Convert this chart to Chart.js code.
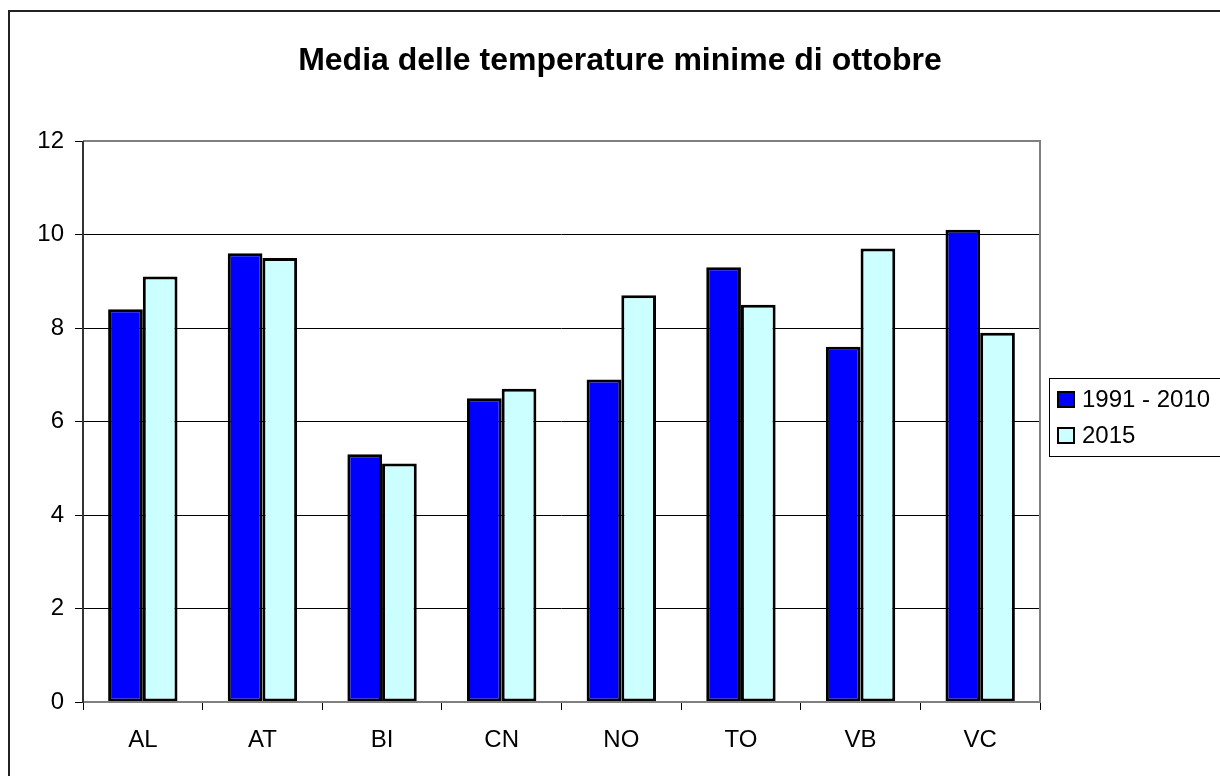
<!DOCTYPE html>
<html>
<head>
<meta charset="utf-8">
<script src="https://cdn.jsdelivr.net/npm/chart.js@4/dist/chart.umd.min.js"></script>
<style>
  html, body { margin: 0; padding: 0; background: #fff; }
  #wrap { width: 1220px; height: 776px; position: relative; }
</style>
</head>
<body>
<div id="wrap"><canvas id="c" width="1220" height="776"></canvas></div>
<script>
const chartTitle = "Media delle temperature minime di ottobre";
const categories = ["AL", "AT", "BI", "CN", "NO", "TO", "VB", "VC"];
const seriesNames = ["1991 - 2010", "2015"];
const values1991_2010 = [8.4, 9.6, 5.3, 6.5, 6.9, 9.3, 7.6, 10.1];
const values2015 = [9.1, 9.5, 5.1, 6.7, 8.7, 8.5, 9.7, 7.9];
const yTicks = [0, 2, 4, 6, 8, 10, 12];

const FONT = "'Liberation Sans', Arial, sans-serif";

const decor = {
  id: 'decor',
  afterDraw(chart) {
    const ctx = chart.ctx;
    const a = chart.chartArea;
    ctx.save();
    // outer border (top + left)
    ctx.strokeStyle = '#222';
    ctx.lineWidth = 2;
    ctx.beginPath();
    ctx.moveTo(9, 780); ctx.lineTo(9, 11); ctx.lineTo(1225, 11);
    ctx.stroke();
    // plot border
    ctx.strokeStyle = '#808080';
    ctx.lineWidth = 2;
    ctx.beginPath();
    ctx.moveTo(a.left, a.top); ctx.lineTo(a.right, a.top); ctx.lineTo(a.right, a.bottom); ctx.lineTo(a.left, a.bottom);
    ctx.stroke();
    ctx.strokeStyle = '#333';
    ctx.beginPath();
    ctx.moveTo(a.left, a.top); ctx.lineTo(a.left, a.bottom + 1);
    ctx.stroke();
    // title
    ctx.fillStyle = '#000';
    ctx.font = 'bold 32px ' + FONT;
    ctx.textAlign = 'center';
    ctx.textBaseline = 'middle';
    ctx.fillText(chartTitle, 620, 61);
    // legend
    ctx.strokeStyle = '#000';
    ctx.lineWidth = 1;
    ctx.strokeRect(1049.5, 378.5, 200, 78);
    chart.data.datasets.forEach((ds, i) => {
      const y = 392 + i * 36;
      ctx.fillStyle = ds.backgroundColor;
      ctx.fillRect(1058, y, 16, 15);
      ctx.lineWidth = 2;
      ctx.strokeStyle = '#000';
      ctx.strokeRect(1058, y, 16, 15);
      ctx.fillStyle = '#000';
      ctx.font = '24px ' + FONT;
      ctx.textAlign = 'left';
      ctx.textBaseline = 'middle';
      ctx.fillText(ds.label, 1082, y + 8);
    });
    ctx.restore();
  }
};

new Chart(document.getElementById('c'), {
  type: 'bar',
  data: {
    labels: categories,
    datasets: [
      { label: seriesNames[0], data: values1991_2010, backgroundColor: '#0000FF', borderColor: '#000', borderWidth: 3, borderSkipped: false },
      { label: seriesNames[1], data: values2015, backgroundColor: '#CCFFFF', borderColor: '#000', borderWidth: 3, borderSkipped: false }
    ]
  },
  options: {
    responsive: false,
    animation: false,
    devicePixelRatio: 1,
    layout: { padding: { top: 141, right: 180, bottom: 0, left: 0 } },
    plugins: { legend: { display: false }, title: { display: false }, tooltip: { enabled: false } },
    datasets: { bar: { categoryPercentage: 0.58, barPercentage: 1.0 } },
    scales: {
      x: {
        offset: true,
        grid: { display: true, drawOnChartArea: false, drawTicks: true, tickLength: 8, tickColor: '#000', offset: true },
        border: { display: false },
        ticks: { color: '#000', font: { family: FONT, size: 24 }, padding: 16, maxRotation: 0 },
        afterFit(scale) { scale.height = 74; }
      },
      y: {
        min: 0, max: 12,
        afterBuildTicks(scale) { scale.ticks = yTicks.map(v => ({ value: v })); },
        grid: {
          color: (c) => (c.tick && (c.tick.value === 0 || c.tick.value === 12)) ? 'rgba(0,0,0,0)' : '#000',
          lineWidth: 1, tickLength: 8, tickColor: '#000'
        },
        border: { display: false },
        ticks: { color: '#000', font: { family: FONT, size: 24 }, padding: 11 },
        afterFit(scale) { scale.width = 83; }
      }
    }
  },
  plugins: [decor]
});
</script>
</body>
</html>
